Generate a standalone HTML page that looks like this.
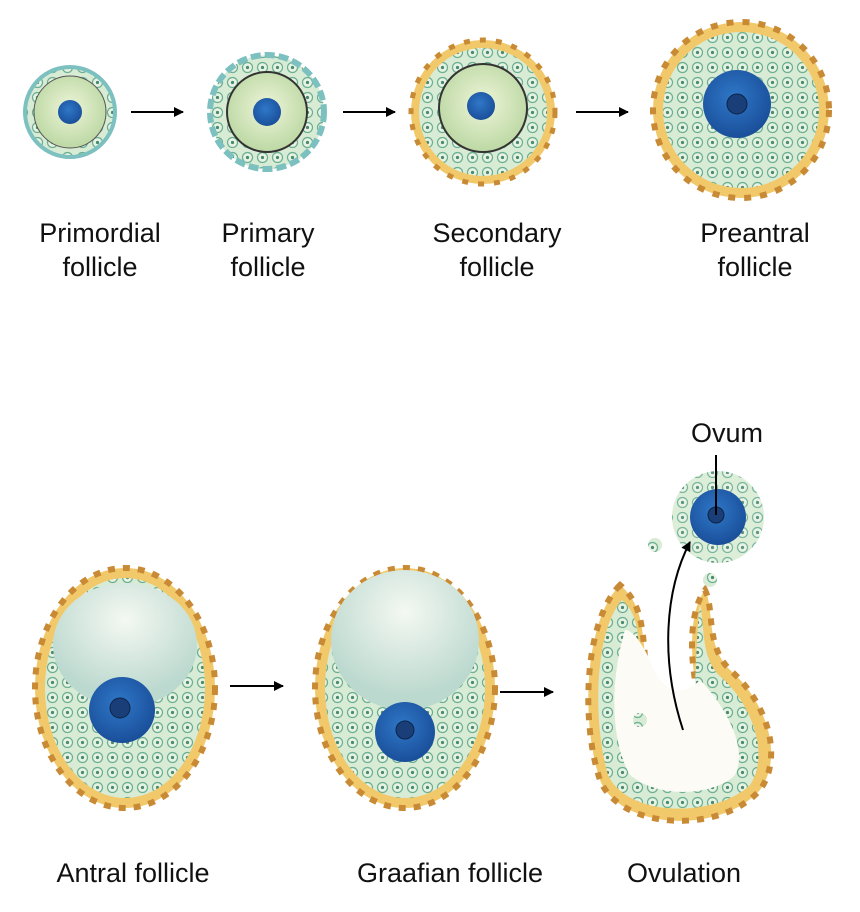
<!DOCTYPE html>
<html><head><meta charset="utf-8"><style>
html,body{margin:0;padding:0;background:#fff;}
svg{display:block}
text{font-family:"Liberation Sans",sans-serif;font-size:27px;fill:#111;text-anchor:middle}
</style></head><body>
<svg width="860" height="912" viewBox="0 0 860 912">
<defs>
<marker id="ah" markerWidth="10" markerHeight="10" refX="9" refY="5" orient="auto" markerUnits="userSpaceOnUse"><path d="M0,0 L10,5 L0,10 Z" fill="#000"/></marker>
<radialGradient id="ooc" cx="50%" cy="45%" r="55%"><stop offset="0" stop-color="#eef5d8"/><stop offset="1" stop-color="#bcd8a4"/></radialGradient>
<radialGradient id="nuc" cx="45%" cy="40%" r="60%"><stop offset="0" stop-color="#2f78c8"/><stop offset="1" stop-color="#1a4f9a"/></radialGradient>
<radialGradient id="ant" cx="50%" cy="30%" r="60%"><stop offset="0" stop-color="#f4f8f2"/><stop offset="1" stop-color="#bcd9cf"/></radialGradient>
<pattern id="cells" width="15" height="15" patternUnits="userSpaceOnUse"><rect width="15" height="15" fill="#d8ebd4"/><circle cx="7.5" cy="7.5" r="5" fill="#e6f2e2" stroke="#6aae92" stroke-width="1.2"/><circle cx="7.5" cy="7.5" r="1.6" fill="#4a8a70"/></pattern>
</defs>

<circle cx="70" cy="112" r="45" fill="url(#cells)" stroke="#7cc0c0" stroke-width="4"/>
<circle cx="70" cy="112" r="36" fill="url(#ooc)" stroke="#555" stroke-width="1"/>
<circle cx="70" cy="112" r="12" fill="url(#nuc)"/>

<circle cx="267" cy="112" r="57" fill="url(#cells)" stroke="#7cc0c0" stroke-width="6" stroke-dasharray="10 4"/>
<circle cx="267" cy="112" r="40" fill="url(#ooc)" stroke="#333" stroke-width="2"/>
<circle cx="267" cy="112" r="14" fill="url(#nuc)"/>

<circle cx="483" cy="112" r="72" fill="#f2c96a" stroke="#c98a35" stroke-width="5" stroke-dasharray="6 10"/>
<circle cx="483" cy="112" r="64" fill="url(#cells)"/>
<circle cx="483" cy="108" r="44" fill="url(#ooc)" stroke="#333" stroke-width="2"/>
<circle cx="481" cy="106" r="14" fill="url(#nuc)"/>

<circle cx="741" cy="110" r="88" fill="#f2c96a" stroke="#c98a35" stroke-width="6" stroke-dasharray="7 9"/>
<circle cx="741" cy="110" r="78" fill="url(#cells)"/>
<circle cx="737" cy="104" r="34" fill="url(#nuc)"/>
<circle cx="737" cy="104" r="10" fill="#1a3f78" stroke="#0c2448"/>

<line x1="131" y1="112" x2="183" y2="112" stroke="#000" stroke-width="2" marker-end="url(#ah)"/>
<line x1="343" y1="112" x2="395" y2="112" stroke="#000" stroke-width="2" marker-end="url(#ah)"/>
<line x1="576" y1="112" x2="628" y2="112" stroke="#000" stroke-width="2" marker-end="url(#ah)"/>

<text x="100" y="242">Primordial</text><text x="100" y="276">follicle</text>
<text x="268" y="242">Primary</text><text x="268" y="276">follicle</text>
<text x="497" y="242">Secondary</text><text x="497" y="276">follicle</text>
<text x="755" y="242">Preantral</text><text x="755" y="276">follicle</text>

<ellipse cx="125" cy="688" rx="90" ry="120" fill="#f2c96a" stroke="#c98a35" stroke-width="6" stroke-dasharray="7 8"/>
<ellipse cx="125" cy="688" rx="80" ry="110" fill="url(#cells)"/>
<ellipse cx="125" cy="645" rx="72" ry="62" fill="url(#ant)"/>
<circle cx="122" cy="710" r="33" fill="url(#nuc)"/>
<circle cx="120" cy="708" r="10" fill="#1a3f78" stroke="#0c2448"/>

<ellipse cx="405" cy="688" rx="90" ry="120" fill="#f2c96a" stroke="#c98a35" stroke-width="6" stroke-dasharray="7 8"/>
<ellipse cx="405" cy="688" rx="80" ry="110" fill="url(#cells)"/>
<ellipse cx="405" cy="640" rx="74" ry="70" fill="url(#ant)"/>
<circle cx="405" cy="732" r="30" fill="url(#nuc)"/>
<circle cx="405" cy="730" r="9" fill="#1a3f78" stroke="#0c2448"/>

<line x1="230" y1="686" x2="283" y2="686" stroke="#000" stroke-width="2" marker-end="url(#ah)"/>
<line x1="500" y1="692" x2="553" y2="692" stroke="#000" stroke-width="2" marker-end="url(#ah)"/>

<path d="M620,585 C585,620 580,720 600,780 C620,830 720,835 760,790 C785,755 765,700 730,670 C705,645 715,610 705,590 C690,610 690,650 695,680 C700,720 660,720 650,690 C640,650 650,610 620,585 Z" fill="#f2c96a" stroke="#c98a35" stroke-width="6" stroke-dasharray="7 8"/>
<path d="M622,600 C595,630 592,720 608,775 C628,818 715,818 750,785 C770,755 752,705 722,678 C700,660 705,625 700,605 C695,640 697,700 690,720 C650,730 640,700 640,670 C638,640 640,615 622,600 Z" fill="url(#cells)"/>
<path d="M625,630 C610,680 610,740 630,775 C660,800 715,795 735,775 C750,745 720,700 700,680 C680,700 660,690 650,660 C640,640 632,630 625,630 Z" fill="#fdfbf5"/>
<circle cx="718" cy="517" r="46" fill="url(#cells)" opacity="0.9"/>
<circle cx="718" cy="517" r="28" fill="url(#nuc)"/>
<circle cx="716" cy="515" r="8" fill="#1a3f78" stroke="#0c2448"/>
<circle cx="655" cy="545" r="7" fill="url(#cells)"/>
<circle cx="710" cy="580" r="7" fill="url(#cells)"/>
<circle cx="640" cy="720" r="7" fill="url(#cells)"/>
<line x1="716" y1="455" x2="716" y2="515" stroke="#000" stroke-width="2"/>
<path d="M683,730 C660,660 665,590 690,542" fill="none" stroke="#000" stroke-width="2" marker-end="url(#ah)"/>
<text x="727" y="442">Ovum</text>

<text x="133" y="882">Antral follicle</text>
<text x="450" y="882">Graafian follicle</text>
<text x="684" y="882">Ovulation</text>
</svg>
</body></html>
